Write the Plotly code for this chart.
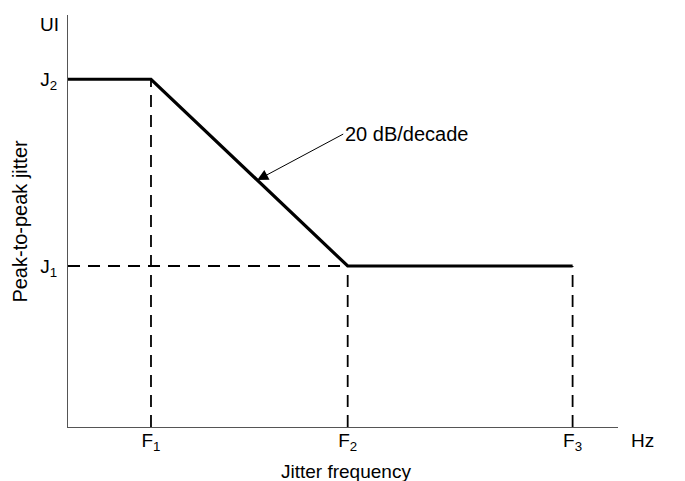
import plotly.graph_objects as go

# Data (schematic positions of the jitter tolerance mask)
freq_labels = ["F<sub>1</sub>", "F<sub>2</sub>", "F<sub>3</sub>"]
freq_pos = [1.0, 3.37, 6.08]
jitter_labels = ["J<sub>1</sub>", "J<sub>2</sub>"]
jitter_vals = [1.0, 2.16]

mask_x = [0.0, freq_pos[0], freq_pos[1], freq_pos[2]]
mask_y = [jitter_vals[1], jitter_vals[1], jitter_vals[0], jitter_vals[0]]

FONT = "Liberation Sans, Arial, sans-serif"
dash = "12px,8px"

fig = go.Figure()

# dashed guides
fig.add_trace(go.Scatter(x=[freq_pos[0], freq_pos[0]], y=[0, jitter_vals[1]], mode="lines",
                         line=dict(color="black", width=1.8, dash=dash), hoverinfo="skip"))
fig.add_trace(go.Scatter(x=[freq_pos[1], freq_pos[1]], y=[0, jitter_vals[0]], mode="lines",
                         line=dict(color="black", width=1.8, dash=dash), hoverinfo="skip"))
fig.add_trace(go.Scatter(x=[freq_pos[2], freq_pos[2]], y=[0, jitter_vals[0]], mode="lines",
                         line=dict(color="black", width=1.8, dash=dash), hoverinfo="skip"))
fig.add_trace(go.Scatter(x=[0, freq_pos[1]], y=[jitter_vals[0], jitter_vals[0]], mode="lines",
                         line=dict(color="black", width=1.8, dash=dash), hoverinfo="skip"))
# mask
fig.add_trace(go.Scatter(x=mask_x, y=mask_y, mode="lines",
                         line=dict(color="black", width=3.2), hoverinfo="skip"))

# slope annotation point on the line
t = 0.54
ax_pt = freq_pos[0] + t * (freq_pos[1] - freq_pos[0])
ay_pt = jitter_vals[1] + t * (jitter_vals[0] - jitter_vals[1])

fig.update_layout(
    width=685, height=481,
    margin=dict(l=68, r=67, t=15, b=54, autoexpand=False),
    paper_bgcolor="white", plot_bgcolor="white",
    showlegend=False,
    font=dict(family=FONT, size=18, color="black"),
    xaxis=dict(range=[0, 6.627], showgrid=False, zeroline=False, showline=True,
               linecolor="#555555", linewidth=1, ticks="",
               tickvals=freq_pos, ticktext=freq_labels, tickfont=dict(size=19),
               ticklabelstandoff=-4, fixedrange=True),
    yaxis=dict(range=[0, 2.559], showgrid=False, zeroline=False, showline=True,
               linecolor="#555555", linewidth=1, ticks="",
               tickvals=jitter_vals, ticktext=jitter_labels, tickfont=dict(size=19),
               ticklabelstandoff=6, fixedrange=True),
    annotations=[
        dict(x=ax_pt, y=ay_pt, xref="x", yref="y", text="20 dB/decade",
             showarrow=True, ax=86, ay=-46, xanchor="left", yanchor="middle",
             arrowhead=2, arrowsize=2.2, arrowwidth=1, arrowcolor="black",
             font=dict(size=20), standoff=0),
        dict(x=-0.033, y=0.978, xref="paper", yref="paper", text="UI", showarrow=False,
             xanchor="center", yanchor="middle", font=dict(size=19)),
        dict(x=1.045, y=-0.032, xref="paper", yref="paper", text="Hz", showarrow=False,
             xanchor="center", yanchor="middle", font=dict(size=19)),
        dict(x=0.505, y=-0.078, xref="paper", yref="paper", text="Jitter frequency",
             showarrow=False, xanchor="center", yanchor="top", font=dict(size=19)),
        dict(x=-0.088, y=0.5, xref="paper", yref="paper", text="Peak-to-peak jitter",
             showarrow=False, textangle=-90, xanchor="center", yanchor="middle",
             font=dict(size=20)),
    ],
)

fig.write_html("out.html", config={"displayModeBar": False},
               post_script="document.body.style.margin='0';document.body.style.padding='0';")
